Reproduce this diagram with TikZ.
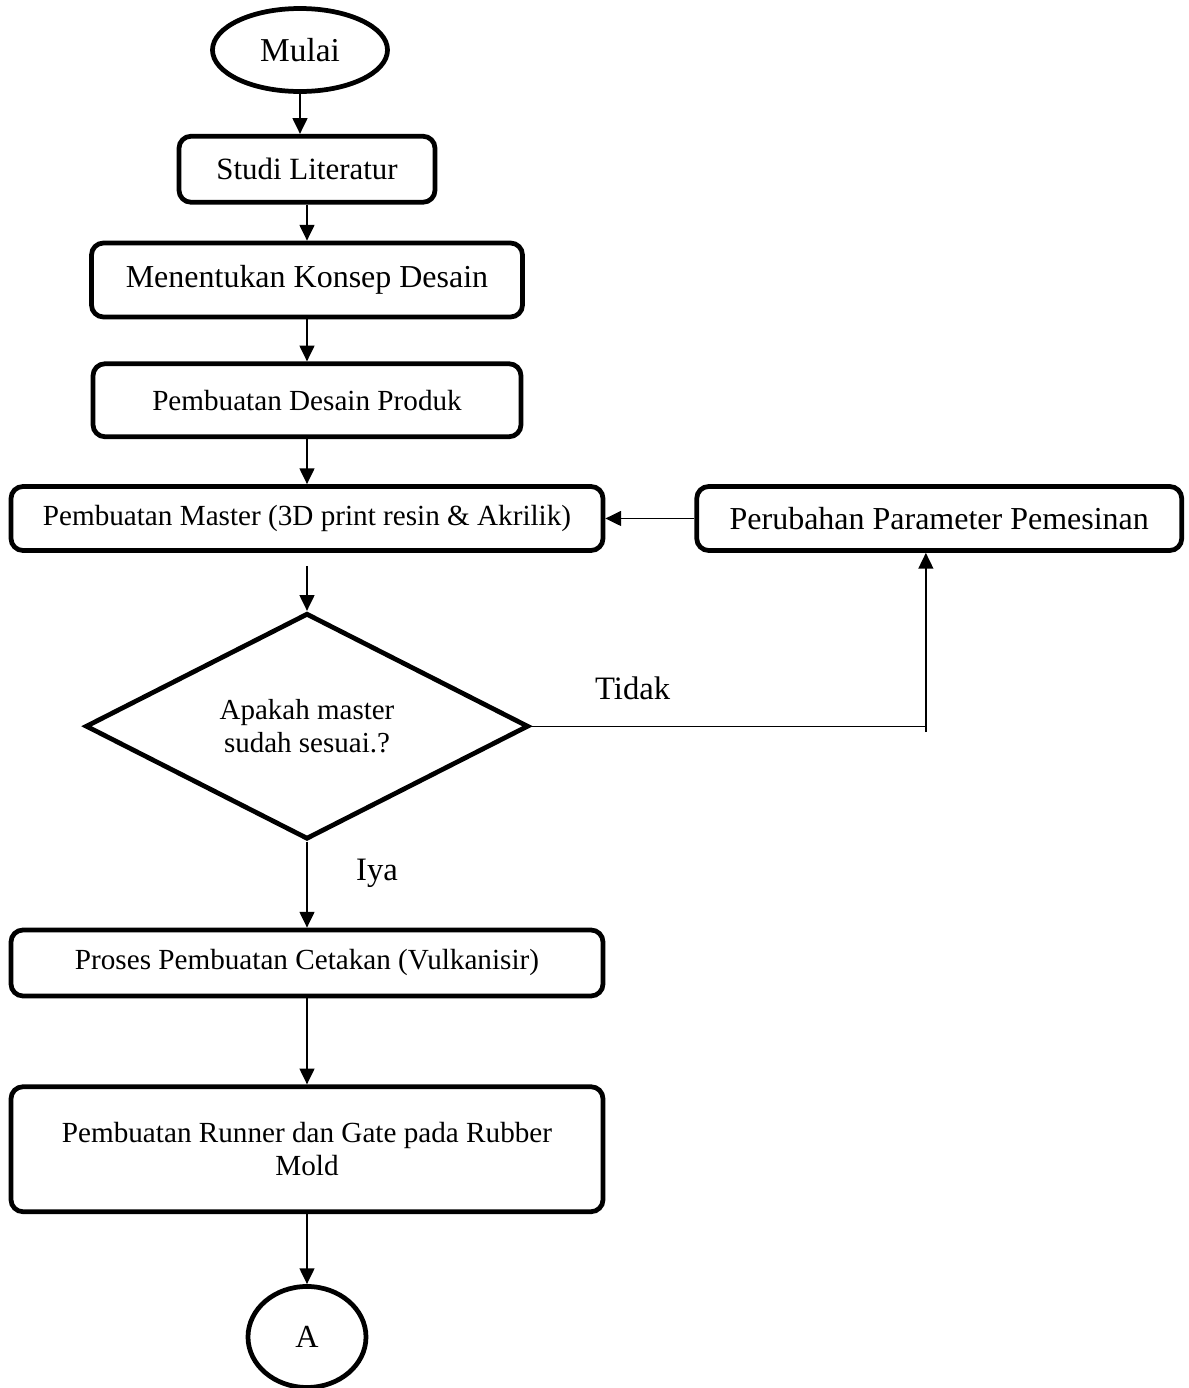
\documentclass[tikz,border=0pt]{standalone}
\usepackage{fontspec}
\setmainfont{Liberation Serif}
\usetikzlibrary{shapes.geometric, positioning, arrows.meta}

\begin{document}
\begin{tikzpicture}[
    box/.style={rectangle, minimum width=11.84cm, minimum height=1.28cm, align=center, draw=black, line width=2.7pt, rounded corners=0.24cm, font=\fontsize{16.6}{18.5}\selectfont},
    term/.style={ellipse, draw=black, line width=2.7pt, inner sep=0pt, font=\fontsize{18.3}{20}\selectfont},
    dec/.style={diamond, aspect=2, draw=black, line width=2.7pt, minimum width=8.86cm, minimum height=4.52cm, inner sep=1pt, align=center, font=\fontsize{16.5}{18.8}\selectfont},
    lbl/.style={font=\fontsize{18.6}{20}\selectfont},
    arrow/.style={line width=1pt, -{Triangle[length=9pt, width=8.5pt]}}
]
\useasboundingbox (0,0) rectangle (23.78,-27.76);
\node (mulai) [term, minimum width=3.5cm, minimum height=1.66cm, font=\fontsize{19}{20}\selectfont] at (6.0,-1.0) {Mulai};
\node (studi) [box, minimum width=5.12cm, minimum height=1.32cm, font=\fontsize{17.6}{20}\selectfont, below=0.8cm of mulai, xshift=0.14cm] {Studi Literatur};
\node (konsep) [box, minimum width=8.62cm, minimum height=1.48cm, font=\fontsize{18.2}{20}\selectfont, below=0.72cm of studi] {Menentukan Konsep Desain};
\node (desain) [box, minimum width=8.56cm, minimum height=1.46cm, below=0.84cm of konsep] {Pembuatan Desain Produk};
\node (master) [box, below=0.9cm of desain] {Pembuatan Master (3D print resin \& Akrilik)};
\node (ubah) [box, minimum width=9.7cm, font=\fontsize{18.2}{20}\selectfont, right=1.78cm of master] {Perubahan Parameter Pemesinan};
\node (cek) [dec, below=1.16cm of master] {Apakah master\\sudah sesuai.?};
\node (proses) [box, minimum height=1.32cm, below=1.72cm of cek] {Proses Pembuatan Cetakan (Vulkanisir)};
\node (runner) [box, minimum height=2.5cm, below=1.72cm of proses] {Pembuatan Runner dan Gate pada Rubber\\Mold};
\node (sambung) [term, minimum width=2.36cm, minimum height=2.02cm, below=1.4cm of runner] {A};
\node (tidak) [lbl, above right=0.4cm and 1.16cm of cek.east] {Tidak};
\node (iya) [lbl, below right=0.22cm and 0.86cm of cek.south] {Iya};
\coordinate [right=7.9cm of cek.east] (belok);

\draw [arrow] (mulai.south) -- (mulai.south |- studi.north);
\draw [arrow] (studi) -- (konsep);
\draw [arrow] (konsep) -- (desain);
\draw [arrow] (desain) -- (master);
\draw [arrow, shorten <=0.26cm] (master) -- (cek);
\draw [line width=0.8pt] (cek.east) -- (belok);
\draw [arrow, line width=0.8pt] ([yshift=-0.12cm]belok) -- (belok |- ubah.south);
\draw [arrow] (ubah) -- (master);
\draw [arrow] (cek) -- (proses);
\draw [arrow] (proses) -- (runner);
\draw [arrow] (runner) -- (sambung);
\end{tikzpicture}
\end{document}
